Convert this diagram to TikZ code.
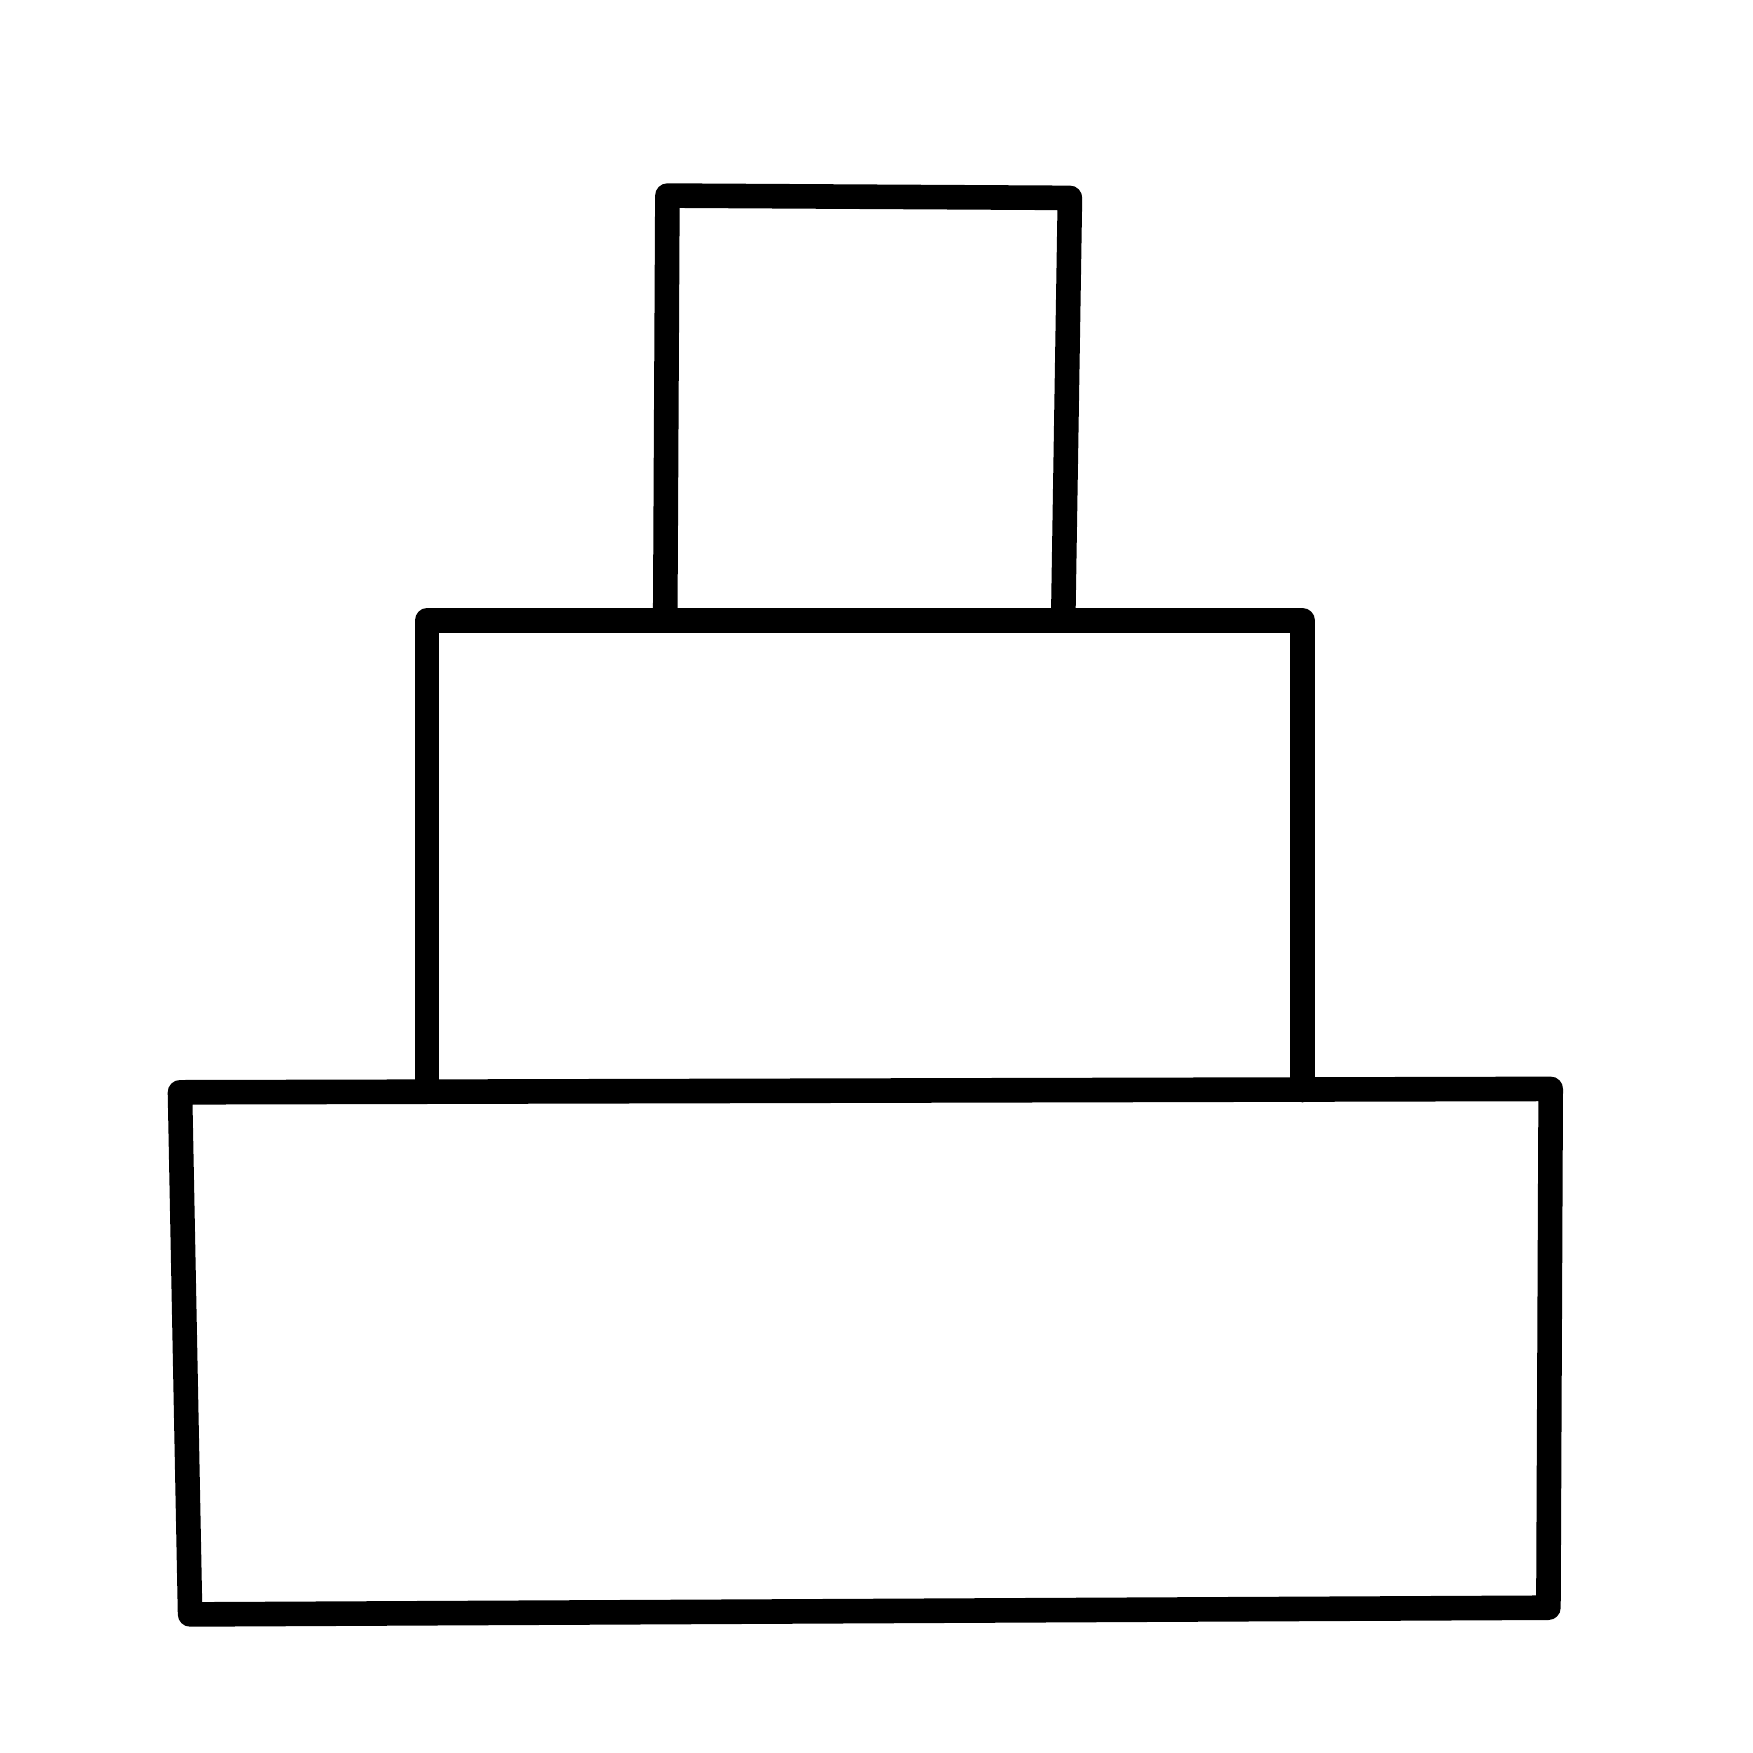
\documentclass[tikz,border=0pt]{standalone}
\begin{document}
\begin{tikzpicture}[x=1pt,y=-1pt,
  tier/.style={draw=black,line width=24.6pt,line join=round,line cap=round}]
\useasboundingbox[fill=white] (0,0) rectangle (1753,1753);
% bottom tier
\draw[tier] (180.0,1092.3) -- (1550.7,1088.9) -- (1548.4,1607.7) -- (190.1,1614.4) -- cycle;
% middle tier
\draw[tier] (427.1,1090.0) -- (427.1,620.5) -- (1302.5,620.5) -- (1302.5,1090.0);
% top tier
\draw[tier] (665.2,620.5) -- (667.4,195.6) -- (1069.9,197.9) -- (1063.2,620.5);
\end{tikzpicture}
\end{document}
